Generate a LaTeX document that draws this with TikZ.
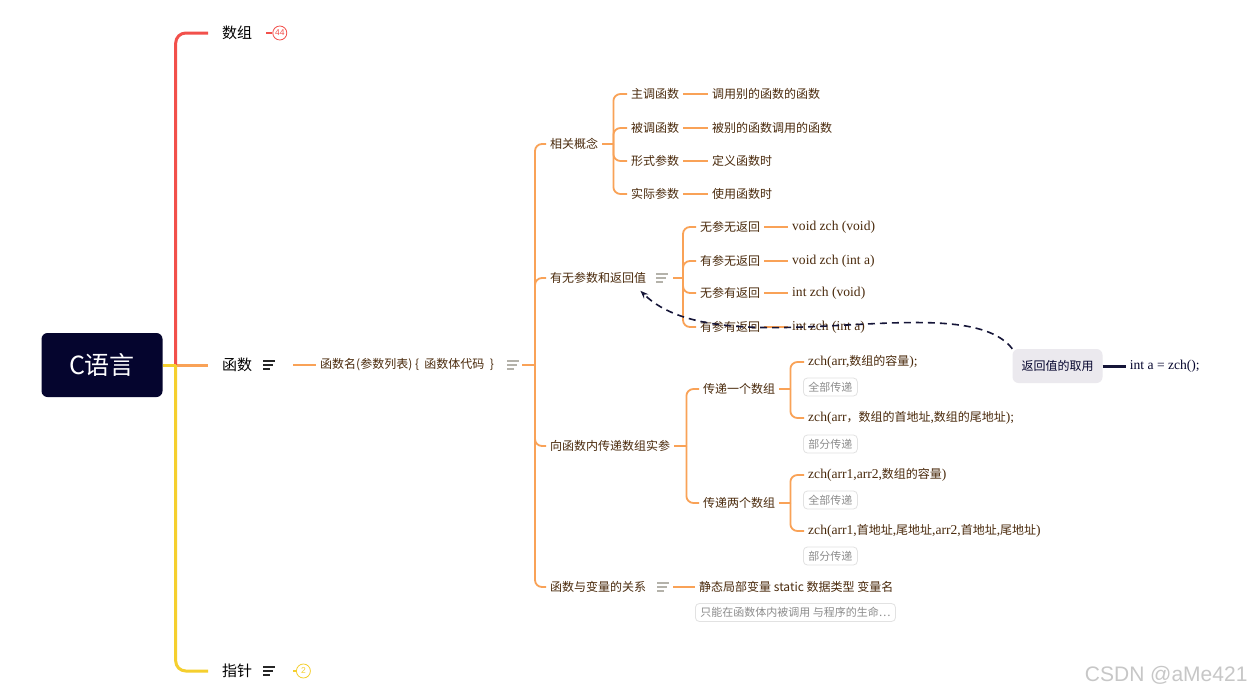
\documentclass[tikz,border=0pt]{standalone}
\usepackage{fontspec}
\setmainfont{Noto Sans CJK SC}
\newfontfamily\codefont[Scale=1.13]{Liberation Serif}
\newfontfamily\markfont{Liberation Sans}
\usepackage{xcolor}
\usepackage{tikz}
\usetikzlibrary{arrows.meta,positioning}

\definecolor{rootnavy}{HTML}{05052E}
\definecolor{branchred}{HTML}{F2504B}
\definecolor{branchorange}{HTML}{F9A257}
\definecolor{branchyellow}{HTML}{F5CF2E}
\definecolor{txtbrown}{HTML}{4A2A0C}
\definecolor{taggray}{HTML}{8C8C8C}
\definecolor{tagborder}{HTML}{E2E2E2}
\definecolor{notegray}{HTML}{B4B2AA}
\definecolor{calloutgray}{HTML}{EBE9EE}
\definecolor{linknavy}{HTML}{151538}

\tikzset{
    rootbox/.style={
        fill=rootnavy,
        rounded corners=6pt,
        text=white,
        minimum width=121pt,
        minimum height=64pt,
        font=\fontsize{25}{28}\selectfont
    },
    topic/.style={
        anchor=west,
        inner xsep=14pt,
        inner ysep=3pt,
        text=black,
        font=\fontsize{15}{18}\selectfont
    },
    subtopic/.style={
        anchor=west,
        inner xsep=4pt,
        inner ysep=2pt,
        text=txtbrown,
        font=\fontsize{12}{14}\selectfont
    },
    codeleaf/.style={
        subtopic,
        font=\codefont\fontsize{12}{14}\selectfont
    },
    tagbox/.style={
        draw=tagborder,
        line width=0.8pt,
        rounded corners=4pt,
        anchor=west,
        inner xsep=5pt,
        inner ysep=0pt,
        minimum height=18pt,
        text=taggray,
        font=\fontsize{11}{13}\selectfont
    },
    calloutbox/.style={
        fill=calloutgray,
        rounded corners=6pt,
        minimum width=90pt,
        minimum height=34pt,
        text=rootnavy,
        font=\fontsize{12}{14}\selectfont
    },
    countbadge/.style={
        circle,
        draw,
        fill=white,
        line width=0.8pt,
        inner sep=0pt,
        minimum size=14pt,
        font=\markfont\fontsize{8.5}{9}\selectfont
    },
    mainline/.style={
        line width=3pt,
        rounded corners=10pt
    },
    subline/.style={
        draw=branchorange,
        line width=1.8pt,
        rounded corners=7pt
    },
    relation/.style={
        draw=linknavy,
        line width=1.6pt,
        dash pattern=on 7pt off 5pt,
        -{Stealth[length=8pt,width=6pt]}
    }
}

% three short lines of a note mark: x, y, colour
\newcommand{\notelines}[3]{%
    \draw[#3, line width=1.4pt] (#1,#2-4) -- ++(12,0) (#1,#2) -- ++(10,0) (#1,#2+4) -- ++(7,0);}

\begin{document}
\begin{tikzpicture}[x=1pt, y=-1pt]
        \fill[white] (0,0) rectangle (1256,696);
        \useasboundingbox (0,0) rectangle (1256,696);

        % root and main branches
        \node[rootbox] (root) at (102,365) {C语言};
        \coordinate (trunk) at ([xshift=13pt]root.east);

        \node[topic] (arr) at (208,33) {数组};
        \node[topic] (fn) at (208,365) {函数};
        \node[topic] (ptr) at (208,671) {指针};

        \draw[mainline, branchorange] (trunk) -- (fn.west);
        \draw[mainline, branchred] (trunk) |- (arr.west);
        \draw[mainline, branchyellow] (root.east) -- (trunk);
        \draw[mainline, branchyellow] (trunk) |- (ptr.west);

        \node[countbadge, draw=branchred, text=branchred, right=6pt of arr] (arr-count) {44};
        \draw[line width=1.5pt, branchred] (arr.east) -- (arr-count);

        \notelines{263}{671}{black!85}
        \coordinate (ptr-out) at (293,671);
        \node[countbadge, draw=branchyellow, text=branchyellow, right=3pt of ptr-out] (ptr-count) {2};
        \draw[line width=1.5pt, branchyellow] (ptr-out) -- (ptr-count);

        % function signature
        \notelines{263}{365}{black!85}
        \coordinate (fn-out) at (293,365);
        \node[subtopic] (sig) at (316,365) {函数名(参数列表) \{~ 函数体代码 ~\}};
        \draw[subline] (fn-out) -- (sig.west);

        \notelines{507}{365}{notegray}
        \coordinate (sig-out) at (522,365);
        \coordinate (sig-bus) at (535,365);

        \node[subtopic] (gxgn) at (546,144) {相关概念};
        \node[subtopic] (ywcs) at (546,278) {有无参数和返回值};
        \node[subtopic] (cdsz) at (546,446) {向函数内传递数组实参};
        \node[subtopic] (hsbl) at (546,587) {函数与变量的关系};

        \draw[subline] (sig-out) -- (sig-bus);
        \foreach \c in {gxgn,ywcs,cdsz,hsbl}
            \draw[subline] (sig-bus) |- (\c.west);

        % related concepts
        \node[subtopic] (zt) at (627,94) {主调函数};
        \node[subtopic] (bt) at (627,128) {被调函数};
        \node[subtopic] (xc) at (627,161) {形式参数};
        \node[subtopic] (sc) at (627,194) {实际参数};
        \node[subtopic] (zt-l) at (708,94) {调用别的函数的函数};
        \node[subtopic] (bt-l) at (708,128) {被别的函数调用的函数};
        \node[subtopic] (xc-l) at (708,161) {定义函数时};
        \node[subtopic] (sc-l) at (708,194) {使用函数时};

        \coordinate (gxgn-bus) at ([xshift=11pt]gxgn.east);
        \draw[subline] (gxgn.east) -- (gxgn-bus);
        \foreach \c in {zt,bt,xc,sc} {
            \draw[subline] (gxgn-bus) |- (\c.west);
            \draw[subline] (\c.east) -- (\c-l.west);
        }

        % parameters and return values
        \notelines{656}{278}{notegray}
        \coordinate (ywcs-out) at (673,278);
        \coordinate (ywcs-bus) at (683,278);

        \node[subtopic] (wcwf) at (696,227) {无参无返回};
        \node[subtopic] (ycwf) at (696,261) {有参无返回};
        \node[subtopic] (wcyf) at (696,293) {无参有返回};
        \node[subtopic] (ycyf) at (696,327) {有参有返回};
        \node[codeleaf] (wcwf-l) at (788,227) {void zch (void)};
        \node[codeleaf] (ycwf-l) at (788,261) {void zch (int a)};
        \node[codeleaf] (wcyf-l) at (788,293) {int zch (void)};
        \node[codeleaf] (ycyf-l) at (788,327) {int zch (int a)};

        \draw[subline] (ywcs-out) -- (ywcs-bus);
        \foreach \c in {wcwf,ycwf,wcyf,ycyf} {
            \draw[subline] (ywcs-bus) |- (\c.west);
            \draw[subline] (\c.east) -- (\c-l.west);
        }

        % passing arrays
        \node[subtopic] (one) at (699,389) {传递一个数组};
        \node[subtopic] (two) at (699,503) {传递两个数组};
        \coordinate (cdsz-bus) at ([xshift=12pt]cdsz.east);
        \draw[subline] (cdsz.east) -- (cdsz-bus);
        \foreach \c in {one,two}
            \draw[subline] (cdsz-bus) |- (\c.west);

        \node[subtopic] (one-a) at (804,362) {{\codefont zch(arr,}数组的容量{\codefont );}};
        \node[tagbox] (one-a-tag) at (803,387) {全部传递};
        \node[subtopic] (one-b) at (804,418) {{\codefont zch(arr}，数组的首地址{\codefont ,}数组的尾地址{\codefont );}};
        \node[tagbox] (one-b-tag) at (803,444) {部分传递};

        \node[subtopic] (two-a) at (804,475) {{\codefont zch(arr1,arr2,}数组的容量{\codefont )}};
        \node[tagbox] (two-a-tag) at (803,500) {全部传递};
        \node[subtopic] (two-b) at (804,531) {{\codefont zch(arr1,}首地址{\codefont ,}尾地址{\codefont ,arr2,}首地址{\codefont ,}尾地址{\codefont )}};
        \node[tagbox] (two-b-tag) at (803,556) {部分传递};

        \coordinate (one-bus) at ([xshift=11pt]one.east);
        \coordinate (two-bus) at ([xshift=11pt]two.east);
        \draw[subline] (one.east) -- (one-bus);
        \draw[subline] (two.east) -- (two-bus);
        \foreach \c in {one-a,one-b}
            \draw[subline] (one-bus) |- (\c.west);
        \foreach \c in {two-a,two-b}
            \draw[subline] (two-bus) |- (\c.west);

        % functions and variables
        \notelines{657}{587}{notegray}
        \coordinate (hsbl-out) at (673,587);
        \node[subtopic] (jtbl) at (695,587) {静态局部变量 static 数据类型 变量名};
        \node[tagbox] (jtbl-tag) at (695,612.5) {只能在函数体内被调用 与程序的生命…};
        \draw[subline] (hsbl-out) -- (jtbl.west);

        % return value callout
        \node[calloutbox] (fz) at (1057.5,366) {返回值的取用};
        \node[codeleaf, text=rootnavy, right=23pt of fz] (fz-use) {int a = zch();};
        \draw[line width=3pt, linknavy] (fz) -- (fz-use);

        \draw[relation] (fz.north west) .. controls +(-50,-65) and +(80,79) .. ([shift={(-10pt,-5pt)}]ywcs.south east);

        \node[anchor=east, text=black!22, font=\markfont\fontsize{21}{24}\selectfont] (mark) at (1251,675) {CSDN @aMe421};
    \end{tikzpicture}
\end{document}
